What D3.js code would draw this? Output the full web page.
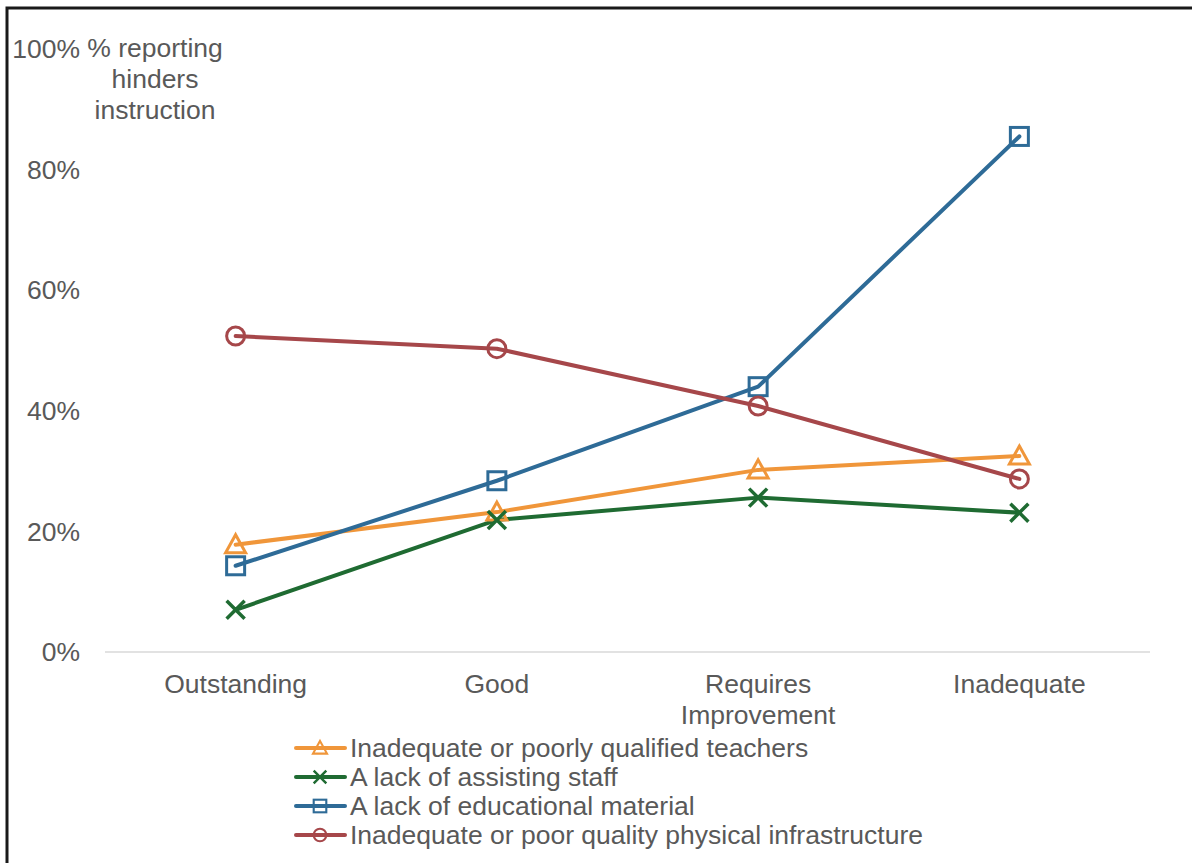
<!DOCTYPE html>
<html>
<head>
<meta charset="utf-8">
<script src="https://cdn.jsdelivr.net/npm/d3@7"></script>
<style>
  body { margin: 0; background: #fff; }
  svg { display: block; font-family: "Liberation Sans", Arial, sans-serif; }
</style>
</head>
<body>
<div id="chart"></div>
<script>
// categories along the x axis
const categories = ["Outstanding", "Good", "Requires\nImprovement", "Inadequate"];

// series values (% reporting hinders instruction)
const teachers = [17.8, 23.2, 30.2, 32.5];
const assisting = [7.0, 21.9, 25.6, 23.1];
const material = [14.3, 28.4, 44.0, 85.5];
const infrastructure = [52.4, 50.3, 40.8, 28.7];

const seriesNames = [
    "Inadequate or poorly qualified teachers",
    "A lack of assisting staff",
    "A lack of educational material",
    "Inadequate or poor quality physical infrastructure"
];
const yTicks = [0, 20, 40, 60, 80, 100];

const series = [
    { name: seriesNames[0], values: teachers, color: "#F0963A", symbol: "triangle" },
    { name: seriesNames[1], values: assisting, color: "#1F6B32", symbol: "cross" },
    { name: seriesNames[2], values: material, color: "#2E6B97", symbol: "square" },
    { name: seriesNames[3], values: infrastructure, color: "#A6474A", symbol: "circle" }
];

const width = 1192, height = 863;
const textColor = "#595959";
const fontSize = 26.5;

const svg = d3.select("#chart").append("svg")
    .attr("width", width)
    .attr("height", height);

// outer frame (left and top edges visible)
svg.append("path")
    .attr("d", `M7,${height} V8 H${width}`)
    .attr("fill", "none")
    .attr("stroke", "#1a1a1a")
    .attr("stroke-width", 3);

const x = d3.scaleBand()
    .domain(categories)
    .range([105, 1150]);

const y = d3.scaleLinear()
    .domain([0, 100])
    .range([652, 49]);

// baseline gridline
svg.append("line")
    .attr("x1", 105).attr("x2", 1150)
    .attr("y1", y(0)).attr("y2", y(0))
    .attr("stroke", "#d9d9d9")
    .attr("stroke-width", 1.5);

// y tick labels
svg.append("g")
    .selectAll("text")
    .data(yTicks)
    .join("text")
    .attr("x", 80)
    .attr("y", d => y(d))
    .attr("dy", "0.35em")
    .attr("text-anchor", "end")
    .attr("fill", textColor)
    .attr("font-size", fontSize)
    .text(d => d + "%");

// axis title
svg.append("text")
    .attr("x", 155)
    .attr("y", 48)
    .attr("text-anchor", "middle")
    .attr("fill", textColor)
    .attr("font-size", fontSize)
    .selectAll("tspan")
    .data(["% reporting", "hinders", "instruction"])
    .join("tspan")
    .attr("x", 155)
    .attr("dy", (d, i) => i === 0 ? "0.35em" : 31)
    .text(d => d);

// x category labels
const cx = d => x(d) + x.bandwidth() / 2;
svg.append("g")
    .selectAll("text")
    .data(categories)
    .join("text")
    .attr("x", cx)
    .attr("y", 684)
    .attr("text-anchor", "middle")
    .attr("fill", textColor)
    .attr("font-size", fontSize)
    .each(function(d) {
        d3.select(this).selectAll("tspan")
            .data(d.split("\n"))
            .join("tspan")
            .attr("x", cx(d))
            .attr("dy", (t, i) => i === 0 ? "0.35em" : 31)
            .text(t => t);
    });

function drawMarker(g, symbol, color) {
    const s = 9;
    if (symbol === "triangle") {
        g.append("path")
            .attr("d", `M0,${-s - 1} L${s + 1},${s - 1} L${-s - 1},${s - 1} Z`)
            .attr("fill", "none").attr("stroke", color).attr("stroke-width", 3);
    } else if (symbol === "cross") {
        g.append("path")
            .attr("d", `M${-s},${-s} L${s},${s} M${-s},${s} L${s},${-s}`)
            .attr("fill", "none").attr("stroke", color).attr("stroke-width", 3.5);
    } else if (symbol === "square") {
        g.append("rect")
            .attr("x", -s).attr("y", -s).attr("width", 2 * s).attr("height", 2 * s)
            .attr("fill", "none").attr("stroke", color).attr("stroke-width", 3);
    } else {
        g.append("circle")
            .attr("r", s)
            .attr("fill", "none").attr("stroke", color).attr("stroke-width", 3);
    }
}

const line = d3.line()
    .x((d, i) => cx(categories[i]))
    .y(d => y(d));

series.forEach(s => {
    svg.append("path")
        .datum(s.values)
        .attr("d", line)
        .attr("fill", "none")
        .attr("stroke", s.color)
        .attr("stroke-width", 4)
        .attr("stroke-linejoin", "round")
        .attr("stroke-linecap", "round");
});

series.forEach(s => {
    s.values.forEach((v, i) => {
        const g = svg.append("g")
            .attr("transform", `translate(${cx(categories[i])},${y(v)})`);
        drawMarker(g, s.symbol, s.color);
    });
});

// legend
const legend = svg.append("g");
series.forEach((s, i) => {
    const ly = 748 + i * 29;
    const row = legend.append("g");
    row.append("line")
        .attr("x1", 296).attr("x2", 345)
        .attr("y1", ly).attr("y2", ly)
        .attr("stroke", s.color)
        .attr("stroke-width", 4)
        .attr("stroke-linecap", "round");
    const m = row.append("g").attr("transform", `translate(320,${ly}) scale(0.7)`);
    drawMarker(m, s.symbol, s.color);
    row.append("text")
        .attr("x", 350)
        .attr("y", ly)
        .attr("dy", "0.35em")
        .attr("fill", textColor)
        .attr("font-size", fontSize)
        .text(s.name);
});
</script>
</body>
</html>
